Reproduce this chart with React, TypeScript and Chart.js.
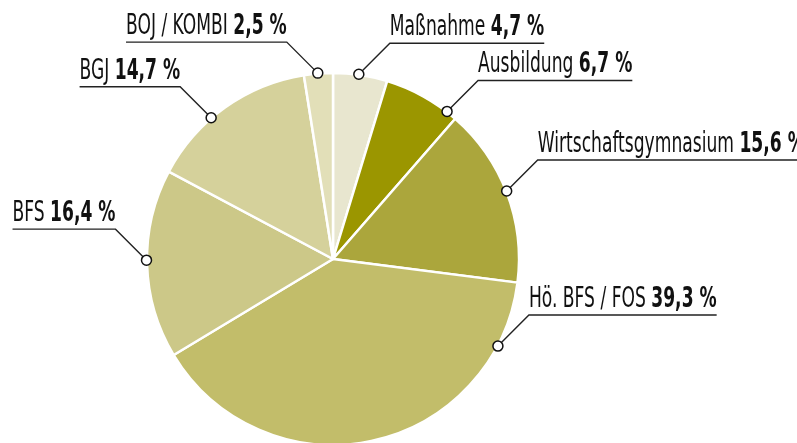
import React, { useEffect, useRef } from "react";
import { Chart, registerables } from "chart.js";

Chart.register(...registerables);

const categories = ["Maßnahme", "Ausbildung", "Wirtschaftsgymnasium", "Hö. BFS / FOS", "BFS", "BGJ", "BOJ / KOMBI"];
const values = [4.7, 6.7, 15.6, 39.3, 16.4, 14.7, 2.5];
const valueLabels = ["4,7 %", "6,7 %", "15,6 %", "39,3 %", "16,4 %", "14,7 %", "2,5 %"];
const colors = ["#e8e6cf", "#9b9600", "#aba63c", "#c2bd6a", "#ccc888", "#d5d19b", "#e2dfb8"];
// where the label marker sits along each slice (0 = start, 1 = end)
const anchorFrac = [0.47, 0.86, 0.49, 0.145, 0.52, 0.4, 0.48];
// label side: 1 = right, -1 = left
const sides = [1, 1, 1, 1, -1, -1, -1];

const FONT_SIZE = 28;
const SCALE_X = 0.68;
const FAMILY = "'Liberation Sans Narrow', 'DejaVu Sans Condensed', sans-serif";

const labelPlugin = {
  id: "calloutLabels",
  afterDraw(chart: any) {
    const ctx = chart.ctx as CanvasRenderingContext2D;
    const meta = chart.getDatasetMeta(0);
    meta.data.forEach((arc: any, i: number) => {
      const { x, y, startAngle, endAngle, outerRadius } = arc.getProps(["x", "y", "startAngle", "endAngle", "outerRadius"], true);
      const a = startAngle + anchorFrac[i] * (endAngle - startAngle);
      const r = outerRadius + 0.5;
      const px = x + r * Math.cos(a);
      const py = y + r * Math.sin(a);
      const side = sides[i];
      const ex = px + side * 31;
      const ey = py - 31;

      ctx.save();
      ctx.font = `normal ${FONT_SIZE}px ${FAMILY}`;
      const w1 = ctx.measureText(categories[i] + " ").width * SCALE_X;
      ctx.font = `bold ${FONT_SIZE}px ${FAMILY}`;
      const w2 = ctx.measureText(valueLabels[i]).width * SCALE_X;
      const tw = w1 + w2;
      const lineEnd = ex + side * tw;
      const textStart = side > 0 ? ex : lineEnd;

      ctx.strokeStyle = "#222";
      ctx.lineWidth = 1.4;
      ctx.beginPath();
      ctx.moveTo(px, py);
      ctx.lineTo(ex, ey);
      ctx.lineTo(lineEnd, ey);
      ctx.stroke();

      ctx.beginPath();
      ctx.arc(px, py, 5, 0, Math.PI * 2);
      ctx.fillStyle = "#ffffff";
      ctx.fill();
      ctx.lineWidth = 1.5;
      ctx.strokeStyle = "#111";
      ctx.stroke();

      ctx.fillStyle = "#111";
      ctx.textBaseline = "alphabetic";
      ctx.textAlign = "left";
      ctx.translate(textStart, ey - 8);
      ctx.scale(SCALE_X, 1);
      ctx.font = `normal ${FONT_SIZE}px ${FAMILY}`;
      ctx.fillText(categories[i] + " ", 0, 0);
      const w1u = ctx.measureText(categories[i] + " ").width;
      ctx.font = `bold ${FONT_SIZE}px ${FAMILY}`;
      ctx.fillText(valueLabels[i], w1u, 0);
      ctx.restore();
    });
  },
};

export default function App() {
  const ref = useRef<HTMLCanvasElement | null>(null);
  useEffect(() => {
    document.body.style.margin = "0";
    if (!ref.current) return;
    const chart = new Chart(ref.current, {
      type: "pie",
      data: {
        labels: categories,
        datasets: [
          {
            data: values,
            backgroundColor: colors,
            borderColor: "#ffffff",
            borderWidth: 2.5,
          },
        ],
      },
      options: {
        animation: false,
        responsive: false,
        radius: 186,
        layout: { padding: { left: 0, right: 131, top: 75, bottom: 0 } },
        plugins: { legend: { display: false }, tooltip: { enabled: false } },
      },
      plugins: [labelPlugin],
    });
    return () => chart.destroy();
  }, []);
  return (
    <div style={{ width: 797, height: 443, background: "#fff" }}>
      <canvas ref={ref} width={797} height={443} style={{ display: "block" }} />
    </div>
  );
}
